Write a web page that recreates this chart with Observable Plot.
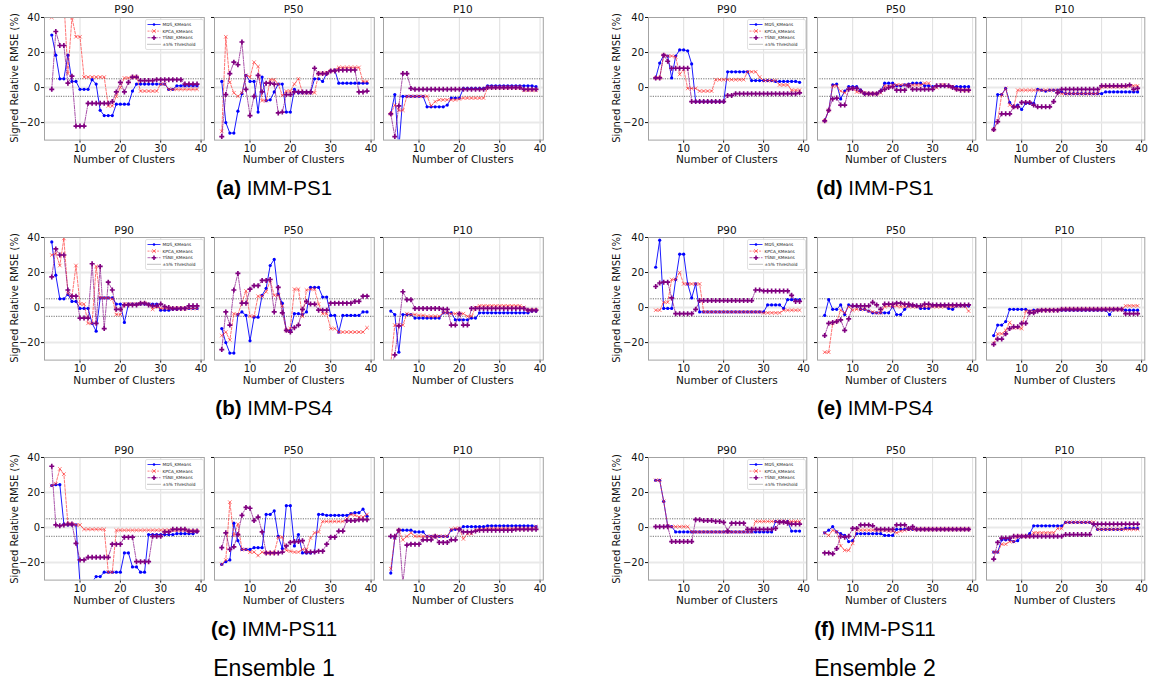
<!DOCTYPE html>
<html>
<head>
<meta charset="utf-8">
<script src="https://cdn.jsdelivr.net/npm/d3@7"></script>
<script src="https://cdn.jsdelivr.net/npm/@observablehq/plot@0.6"></script>
<style>
  html, body { margin: 0; padding: 0; background: #fff; }
  #root { position: relative; width: 1150px; height: 687px; overflow: hidden; background: #fff; }
  .lbl { position: absolute; white-space: nowrap; transform: translate(-50%, -50%); color: #111; font-weight: normal; }
  .dv { font-family: "DejaVu Sans", sans-serif; }
  .cap { font-family: "Liberation Sans", Arial, sans-serif; font-size: 20.5px; color: #000; }
  .ens { font-family: "Liberation Sans", Arial, sans-serif; font-size: 23px; color: #000; }
  .panel { position: absolute; }
</style>
</head>
<body>
<div id="root"></div>
<script>
// ---------------- DATA ----------------
const clusters = [3,4,5,6,7,8,9,10,11,12,13,14,15,16,17,18,19,20,21,22,23,24,25,26,27,28,29,30,31,32,33,34,35,36,37,38,39];
const methods = ["MDS_KMeans", "KPCA_KMeans", "TSNE_KMeans"];
const panelTitles = ["P90", "P50", "P10"];
const captionLetters = ["(a)", "(b)", "(c)", "(d)", "(e)", "(f)"];
const captionNames = ["IMM-PS1", "IMM-PS4", "IMM-PS11", "IMM-PS1", "IMM-PS4", "IMM-PS11"];
const ensembleNames = ["Ensemble 1", "Ensemble 2"];
const thresholdLabel = "±5% Threshold";
const xTicks = [10, 20, 30, 40];
const yTicks = [-20, 0, 20, 40];
const thresholds = [5, -5];
const xLabel = "Number of Clusters";
const yLabel = "Signed Relative RMSE (%)";

// (a) IMM-PS1, Ensemble 1
const a_P90_MDS  = [30,18.5,5,5,18.5,3.5,3.5,-1,-1,-1,4.5,2,-13,-16,-16,-16,-9.5,-9.5,-9.5,-9.5,-2,2,2,2,2,2,2,2,2,-1,-1,1,1,1,1,1,1];
const a_P90_KPCA = [40,55,48,50,8,40,29,29,6,6,6,6,6,6,-10.5,-10.5,-5,0,5.5,5.5,6,6,-2,-2,-2,-2,-2,2,2,-1,-1,-1,-1,-1,-1,-1,-1];
const a_P90_TSNE = [-1,32,24,24,2.5,6.5,-22,-22,-22,-9,-9,-9,-9,-9,-9,-8,-2.5,3,-2.5,3,6,6,4,4,4,4,4.5,4.5,4.5,4.5,4.5,4.5,4.5,2,2,2,2];
const a_P50_MDS  = [3.5,-20,-26,-26,-13.5,-3.5,7,3.5,3.5,-14,6,-7.5,-7,-2.5,2,2,-14,-14,-1,-3,-3,-3,-3,5,5,3.5,8,9.5,10,2.5,2.5,2.5,2.5,2.5,2.5,2.5,2.5];
const a_P50_KPCA = [-25,29,3,-3,-5,-3,7,6,14.5,12,-7.5,-7.5,4.5,4.5,2,-4.5,-2,-2,2,5,-3,-3,-3,-3,8,8,8.5,9.5,10,11.5,11.5,11.5,11.5,11.5,11.5,3.5,3.5];
const a_P50_TSNE = [-28,-4,8,14.5,13,26,-1,-16,-5,7,-2.5,2.5,2.5,2,-14.5,-14,-4,-4,-2.5,-2.5,-2.5,-2.5,-2.5,11,8,8,8,9.5,9.5,10,10,10,10,10,-2.5,-2.5,-2];
const a_P10_MDS  = [-15,-4,-35,-5,-5,-5,-5,-5,-5,-11,-11,-11,-11,-11,-10,-6,-6,-6,-0.5,-0.5,-0.5,-0.5,-0.5,-0.5,1,1,1,1,1,1,1,1,1,1,1,1,0.5];
const a_P10_KPCA = [-15,-10,-13,-13,-5,-5,-5,-5,-5,-5,-10.5,-8,-7,-7,-7,-7,-7,-6.5,-6,-6,-6,-6,-6,-6,0,0,0,0,0,0,0,0,0,-1.5,-1.5,-1.5,-1.5];
const a_P10_TSNE = [-15,-28,-10.5,8,8,-0.5,-1,-1,-1,-1,-1,-1,-1,-1,-1,-1,-1,-1,-1,-1,-1,-1,-1,-1,0,0,0,0,0,0,0,0,0,-1,-1,-1,-1];

// (b) IMM-PS4, Ensemble 1
const b_P90_MDS  = [37.5,18.5,5,5,7.5,3.5,3.5,-0.5,-0.5,-0.5,-9,-13.5,5.5,5.5,5.5,5.5,2,2,-8.5,2,2,2,2,2,2,2,2,-1.5,-1.5,-1.5,-1,-1,-0.5,-0.5,-0.5,-0.5,-0.5];
const b_P90_KPCA = [30,31,24,39.5,8,6,24,2,2,-9,-9,23.5,5.5,5.5,5.5,5,-4,-4,2,2,2,2,2,2.5,2,-1,0.5,-0.5,-0.5,-0.5,-0.5,-0.5,-0.5,-0.5,-0.5,-0.5,-0.5];
const b_P90_TSNE = [17.5,33.5,30,30,10,6.5,6.5,-6,-6,-6,25,-9,23.5,-12,14.5,10,-1,-1,1.5,1.5,1.5,1.5,2.5,2.5,1.5,1,1,2,0.5,0,-0.5,-0.5,-0.5,-0.5,1,1,1];
const b_P50_MDS  = [-12,-20,-26,-26,-4,-2.5,-4.5,-19,-5.5,-5.5,7,11,24,27.5,7.5,2.5,-13,-13,-3.5,-3.5,-4,-2.5,11.5,11.5,11.5,6,6,-4.5,-4.5,-14,-4.5,-4.5,-4.5,-4.5,-4.5,-2.5,-2.5];
const b_P50_KPCA = [-16,-14,-18.5,-3.5,-4,3,9.5,-5,-5,6.5,6.5,9,15.5,7,7,1,-13,-12,10.5,10.5,-5,10,10.5,10.5,2,-3.5,-3.5,-12,-12,-14,-14,-14,-14,-14,-14,-14,-11.5];
const b_P50_TSNE = [-24,-2.5,-10,10,19.5,2.5,2.5,10.5,12.5,12.5,15.5,15.5,16,-2.5,11.5,-3,-13,-14,-11.5,-10,-1,3.5,2,2,-1.5,-1.5,-1.5,2.5,2.5,2.5,2.5,2.5,2.5,3.5,3.5,6.5,6.5];
const b_P10_MDS  = [-2,-4,-25.5,-4,-4,-4,-6,-6,-6,-6,-6,-6,-6,-3,-3,-3,-7,-7,-7,-7,-6,-6,-3,-3,-3,-3,-3,-3,-3,-3,-3,-3,-3,-3,-3,-2,-2];
const b_P10_KPCA = [-32,-10,-10,-10,-3.5,-4,-4,-4.5,-4.5,-5,-5,-5,-5,-3,-3,-3.5,-3.5,-3.5,-3.5,-5,-5,0,1,1,1,1,1,1,1,1,1,1,1,0,-1.5,-1.5,-1.5];
const b_P10_TSNE = [-35,-27,-10.5,9,4.5,4.5,-0.5,-0.5,-0.5,-0.5,-0.5,-0.5,-0.5,-1,-1,-10,-10,-3.5,-10,-10,-0.5,-0.5,-0.5,-0.5,-0.5,-0.5,-0.5,-0.5,-0.5,-0.5,-0.5,-0.5,-0.5,-0.5,-1.5,-1.5,-1.5];

// (c) IMM-PS11, Ensemble 1
const c_P90_MDS  = [24,24.5,24.5,2,1.5,1.5,1.5,-32,-36,-36,-31,-28,-28,-25.5,-25.5,-25.5,-25.5,-25.5,-14.5,-14.5,-22.5,-22.5,-25.5,-25.5,-4,-4,-4,-4,-4,-4,-4,-3.5,-3.5,-3.5,-3.5,-3.5,-2.5];
const c_P90_KPCA = [24,25,33.5,30.5,2,2,1.5,1.5,-1,-1,-1,-1,-1,-1,-25.5,-25.5,-1.5,-1.5,-1.5,-1.5,-1.5,-1.5,-1.5,-1.5,-1.5,-1.5,-1.5,-1.5,-1.5,-1.5,-1.5,-1.5,-1.5,-1.5,-2,-2,-2];
const c_P90_TSNE = [35,1.5,1,1.5,2,2,-9,-18.5,-18.5,-17,-17,-17,-17,-17,-17,-9.5,-9.5,-9.5,-5.5,-5.5,-5.5,-19.5,-19.5,-19.5,-19.5,-5,-5,-5,-2.5,-2.5,-1,-1,-1,-1,-2,-2,-2];
const c_P50_MDS  = [-21,-19.5,-18.5,2.5,-7.5,-12.5,-12.5,-12.5,-11.5,-11.5,-11.5,7.5,7.5,9.5,-5,-12,12.5,12.5,-10.5,-4,-14.5,-14.5,-14.5,-14,7.5,7.5,7,7,7,7,7,7,8,8.5,8.5,10.5,6.5];
const c_P50_KPCA = [-21,-18.5,14.5,-4.5,2,-12.5,-12.5,-14,-14,-16,-14,-14.5,-14.5,-14.5,-5.5,-5.5,-13,-13.5,-14,-14,-12.5,-12.5,-6,-3,-2.5,3.5,3.5,3.5,3.5,3.5,3.5,5,7.5,7,6,6,7.5];
const c_P50_TSNE = [-11.5,-3,-12.5,-11,-4,7,11.5,11,4,6,-2.5,-14.5,-14.5,-14.5,-14.5,-14,-10.5,-8.5,-8,-8,-7.5,-14,-14,-14,-13.5,-13.5,-9.5,-5.5,-5.5,-2,-2,4,4,4,4.5,4.5,4.5];
const c_P10_MDS  = [-26,-6,-1.5,-1.5,-1.5,-1.5,-2.5,-2.5,-2.5,-5,-5,-5,-5,-5,-5,-1.5,-1,-1,0.5,0.5,0.5,0.5,0.5,0.5,1,1,1,1,1,1,1,1,1,1,1,1,0.5];
const c_P10_KPCA = [-23.5,-6,-1.5,-7,-5,-3,-5,-5,-5,-5,-5,-5,-5,-5,-5,-1,-0.5,-0.5,-6.5,-3.5,-3.5,-1.5,-1,-1,-0.5,-0.5,-0.5,-0.5,-0.5,-0.5,-0.5,-0.5,-0.5,-0.5,-0.5,-0.5,0.5];
const c_P10_TSNE = [-5,-5,-1.5,-32,-10,-9.5,-9.5,-9.5,-7,-7,-7,-5,-8.5,-8.5,-8.5,-7,-7,-1,-2.5,-2.5,-2.5,-2,-1.5,-1.5,-1.5,-1.5,-1.5,-1.5,-1.5,-1.5,-1.5,-1,-1,-1,-1,-1,-1];

// (d) IMM-PS1, Ensemble 2
const d_P90_MDS  = [5.5,14,18.5,18,5.5,18,21.5,21.5,21,13.5,-8,-8,-8,-8,-8,-8,-8,-8,9,9,9,9,9,9,4,4,4,4,4,4,3.5,3.5,3.5,3.5,3.5,3.5,3];
const d_P90_KPCA = [5.5,5.5,18.5,18,18,17.5,7.5,10.5,-0.5,-0.5,-0.5,-2,-2,-2,-2,4.5,4.5,4.5,4.5,4.5,4.5,4.5,4.5,9,9,9,6,4,4,4,4,1.5,1.5,1.5,-1.5,-1.5,-1.5];
const d_P90_TSNE = [5.5,5.5,18.5,15,11,11,11,11,11,-8,-8,-8,-8,-8,-8,-8,-8,-8,-4.5,-4.5,-3.5,-3.5,-3.5,-3.5,-3.5,-3.5,-3.5,-3.5,-3.5,-3.5,-3.5,-3.5,-3.5,-3.5,-3.5,-3.5,-3];
const d_P50_MDS  = [-19,-13,1.5,2,-6.5,-2,0.5,0.5,0.5,-1.5,-3.5,-3.5,-3.5,-3.5,-2,2.5,2.5,2.5,1,1,1.5,2,2.5,2.5,2.5,1,1,0.5,1,1,1,1,0.5,0.5,0.5,0.5,0.5];
const d_P50_KPCA = [-19,-13,1,1,-2,-3,-0.5,-0.5,-2.5,-2.5,-3,-3.5,-3.5,-3.5,-3,1,0.5,1.5,1.5,1.5,1.5,1.5,1.5,1.5,1.5,2.5,2.5,0,0,1.5,1.5,0.5,0.5,-1,-1,-1.5,-1.5];
const d_P50_TSNE = [-19,-13,-6.5,-6,-10,-10,-1,-0.5,-0.5,-2,-3.5,-3.5,-3.5,-3.5,-2,-1,0,0.5,-1.5,-1.5,-1.5,1,-1,-1,-1,-1,-1,-1,1,1,1,1,0,-1,-1.5,-1.5,-1.5];
const d_P10_MDS  = [-24,-4,-4,-0.5,-8.5,-11,-10,-12.5,-9,-9,-9,-1,-1.5,-2,-1.5,-1.5,-1.5,-2.5,-3.5,-3.5,-3.5,-3.5,-3.5,-3.5,-3.5,-3.5,-3.5,-3.5,-2.5,-2.5,-2.5,-2.5,-2.5,-2.5,-2.5,-2.5,-2.5];
const d_P10_KPCA = [-24,-19,-4,-0.5,-10,-11,-1.5,-1.5,-1.5,-1.5,-1.5,-1.5,-1.5,-1.5,-1.5,-1.5,-1.5,-3.5,-3.5,-3.5,-3.5,-3.5,-3.5,-3.5,-3.5,-3.5,-3.5,0.5,0.5,0.5,0.5,0.5,0.5,0.5,1,1,1];
const d_P10_TSNE = [-24,-19.5,-15,-15,-15,-11,-11,-8.5,-8.5,-8.5,-10,-11,-11,-11,-11,-8,-3,-1,-1,-1,-1,-1,-1,-1,-1,-1,-1,1,1,1,1,1,1,1,1.5,-1,-0.5];

// (e) IMM-PS4, Ensemble 2
const e_P90_MDS  = [23,38.5,-0.5,-0.5,-0.5,16,30.5,30.5,13.5,5.5,13.5,-2.5,-2.5,-2.5,-2.5,-2.5,-2.5,-2.5,-2.5,-2.5,-2.5,-2.5,-2.5,-2.5,-2.5,-2.5,-2.5,-2.5,1.5,1.5,1.5,1.5,-0.5,4.5,4.5,4.5,4.5];
const e_P90_KPCA = [-1.5,-1.5,3,3,16,16,20,13.5,13.5,13.5,13.5,13.5,-2.5,-2.5,-2.5,-2.5,-2.5,-2.5,-2.5,-2.5,-2.5,-2.5,-2.5,-2.5,-2.5,-2.5,-2.5,-3,-3,-3,-3,-3,-1.5,-1.5,-1.5,-1.5,-1.5];
const e_P90_TSNE = [12,14,14.5,14.5,5.5,-3.5,-3.5,-3.5,-3.5,-3.5,-1,4,4,4,4,4,4,4,4,4,4,4,4,4,4,10,10,9.5,9.5,9.5,9.5,9.5,9.5,9.5,7,3.5,3.5];
const e_P50_MDS  = [-4.5,4.5,-1,-1,1.5,-4,1.5,1,1,-1,-1,-2,-3,-3,-3,-3,-3,0.5,-4,-4,-1,1,1,1,-0.5,-0.5,-0.5,1,1,1,1,-0.5,-1,1,1,1,1];
const e_P50_KPCA = [-25.5,-25.5,-9,-8,-1.5,-3,0.5,-1.5,-1,-1,-1,-2,-2.5,-3,-3,0.5,1,0.5,1,0.5,0.5,0.5,0.5,0.5,0.5,0.5,0.5,0.5,0.5,0.5,0.5,0.5,0.5,1,1,1,-2];
const e_P50_TSNE = [-16,-9,-8.5,-8,-7,-13,-6.5,1,1,1,1,1,3,1.5,-1,2,2,2,2.5,2.5,2,2,1.5,1,1,2,2,1.5,1.5,1.5,1.5,1.5,1.5,1.5,1.5,1.5,1.5];
const e_P10_MDS  = [-16,-10,-10,-8,-1,-1,-1,-1,-1,-2,-1.5,-1.5,-1.5,-1.5,-1.5,-1.5,-1.5,-1.5,-1.5,-1.5,-1.5,-1.5,-1.5,-1.5,-1.5,-1.5,-1.5,-1.5,-1.5,-4,-1,-1,-1,-1.5,-1.5,-1.5,-1.5];
const e_P10_KPCA = [-20.5,-15,-15,-13,-8.5,-11.5,-11.5,-12,-2,-2,-2,-1.5,-1.5,-1.5,-1.5,-1.5,-1.5,-1,-1,-1,-1,-1,-1,-1,-1,-1,-1,-1,-1,-1,-1,-1,-1,1,1,1,1];
const e_P10_TSNE = [-21,-18,-18,-15,-12,-11,-11,-9,-9,-3,-3,-2,-1.5,-1.5,-1.5,-1.5,-1.5,-1,-1,-1,-1,-1,-1,-1,-1,-1,-1,-1,-1,-1,-1,-1,-1,-3.5,-3.5,-3.5,-3.5];

// (f) IMM-PS11, Ensemble 2
const f_P90_MDS  = [27,27,15,1,0.5,-2.5,-2.5,-2.5,-2.5,-2.5,-2.5,-2.5,-2.5,-2.5,-2.5,-2.5,-2.5,-2.5,-2.5,-2.5,-2.5,-2.5,-2.5,-2.5,-2.5,-2.5,-2.5,-2.5,-2.5,-2.5,3.5,3.5,3.5,3.5,-2,-2,-2];
const f_P90_KPCA = [27,27,15,1,0.5,0.5,0.5,0.5,0.5,-2.5,-2.5,-2.5,-2.5,-2.5,-2.5,-2.5,-2.5,-2.5,-2.5,-2.5,-2.5,-2.5,-2.5,-2.5,-2.5,3.5,3.5,3.5,3.5,3.5,3.5,3.5,3.5,3.5,3.5,3.5,3.5];
const f_P90_TSNE = [0.5,0.5,0.5,0.5,-8,-8,-8,-8,-8,-8,4.5,4.5,4,4,4,3.5,3.5,3,-2,2.5,2.5,2.5,2.5,-1,-1,-1,-1,-1,-1,-1,-0.5,3,3,2.5,2,2,2];
const f_P50_MDS  = [-3,-1.5,0.5,-2.5,-3.5,-4.5,-8,-7.5,-3.5,-3.5,-3.5,-3.5,-3.5,-3.5,-3.5,-4.5,-4.5,-4.5,-1,-1,-1,-1,-1,-1,-1,-1,-1,-1,-1,-1,-1,-1,-1,-1,-1,-1,-1];
const f_P50_KPCA = [-3,-4.5,-1.5,-2.5,-10.5,-13,-13,-9,-1.5,-1.5,-1.5,-1.5,-1.5,-1.5,-1.5,-1.5,-2,-2,-3,-2,-1.5,-1,-1,-1,-1,-1,-1,-1,-1,-1,-1,-1,-1,-1,-1,-1,-1];
const f_P50_TSNE = [-14.5,-14.5,-15,-12,-5,-5.5,-5,-0.5,-0.5,1.5,1.5,1.5,1,-1,-1,-1,-1,-1,1.5,1.5,1.5,-0.5,0.5,-1,-1,-1,-1,-1,-1,-1,-1,-1,-1,-1,-1,-1,-1];
const f_P10_MDS  = [-14,-14,-7,-7,-7,-8,-7.5,-5,-5,-3.5,1,1,1,1,1,1,1,1,3,3,3,3,3,3,3,2,-1,-1,-1,-1,-1,-1,-1,-0.5,-0.5,-0.5,-0.5];
const f_P10_KPCA = [-14,-14,-9.5,-9.5,-8,-8,-5,-5,-5,-5,-3,-3,-3,-3,-3,-3,-0.5,-0.5,3,3,3,3,3,3,3,3,-1,-1,-1,-1,-1,-1,-1,-1,-1,-1,-1];
const f_P10_TSNE = [-18,-8.5,-6,-6,-6,-5,-5,-5,-5,-5,-5,-5,-5,-5,-5,-5,-5,-5,-4,-4,-4,-4,-4,-4,-4,2,2,2,2,2,2,2,2,2,2,2,2];

const groups = [
  [[a_P90_MDS, a_P90_KPCA, a_P90_TSNE], [a_P50_MDS, a_P50_KPCA, a_P50_TSNE], [a_P10_MDS, a_P10_KPCA, a_P10_TSNE]],
  [[b_P90_MDS, b_P90_KPCA, b_P90_TSNE], [b_P50_MDS, b_P50_KPCA, b_P50_TSNE], [b_P10_MDS, b_P10_KPCA, b_P10_TSNE]],
  [[c_P90_MDS, c_P90_KPCA, c_P90_TSNE], [c_P50_MDS, c_P50_KPCA, c_P50_TSNE], [c_P10_MDS, c_P10_KPCA, c_P10_TSNE]],
  [[d_P90_MDS, d_P90_KPCA, d_P90_TSNE], [d_P50_MDS, d_P50_KPCA, d_P50_TSNE], [d_P10_MDS, d_P10_KPCA, d_P10_TSNE]],
  [[e_P90_MDS, e_P90_KPCA, e_P90_TSNE], [e_P50_MDS, e_P50_KPCA, e_P50_TSNE], [e_P10_MDS, e_P10_KPCA, e_P10_TSNE]],
  [[f_P90_MDS, f_P90_KPCA, f_P90_TSNE], [f_P50_MDS, f_P50_KPCA, f_P50_TSNE], [f_P10_MDS, f_P10_KPCA, f_P10_TSNE]]
];

// ---------------- LAYOUT / STYLE ----------------
const root = document.getElementById("root");
const fmt = d3.format("d");
const halves = [
  {frameLefts: [44.3, 213.6, 382.9], W: 159.8, ylabX: 14, capX: 274},
  {frameLefts: [647.7, 816.6, 985.5], W: 158.3, ylabX: 616, capX: 875}
];
const frameTops = [16.7, 237, 457.3];
const H = 122.6;
const capYOffset = 171.3;
const ensembleY = 668;

const styles = [
  {line: {stroke: "#0000ff", strokeWidth: 0.9},
   dot: {r: 1.6, fill: "#0000ff"}},
  {line: {stroke: "#ff2a2a", strokeOpacity: 0.72, strokeWidth: 0.9, strokeDasharray: "2.6,1.5"},
   dot: {symbol: "times", r: 1.8, stroke: "#ff2a2a", strokeOpacity: 0.75, strokeWidth: 0.8}},
  {line: {stroke: "#800080", strokeOpacity: 0.75, strokeWidth: 0.9, strokeDasharray: "3.5,1.2,1,1.2"},
   dot: {symbol: "cross", r: 2.1, fill: "#800080"}}
];

function addLabel(text, x, y, cls, rotate) {
  const d = document.createElement("div");
  d.className = "lbl " + cls;
  d.style.left = x + "px";
  d.style.top = y + "px";
  if (rotate) d.style.transform = "translate(-50%, -50%) rotate(-90deg)";
  d.textContent = text;
  root.appendChild(d);
  return d;
}

function panelPlot(seriesArrays, showY, W) {
  const mL = 30, mR = 6, mT = 4, mB = 18;
  const rowsets = seriesArrays.map((arr, k) => clusters.map((c, i) => ({cluster: c, value: arr[i], method: methods[k]})));
  const marks = [
    Plot.ruleX(xTicks, {stroke: "#d6d6d6", strokeWidth: 0.8}),
    Plot.ruleY(yTicks.filter(v => v < 40), {stroke: "#e9e9e9", strokeWidth: 2}),
    Plot.ruleY(thresholds, {stroke: "#333", strokeWidth: 0.7, strokeDasharray: "1.2,1.2"})
  ];
  rowsets.forEach((rows, k) => {
    marks.push(Plot.line(rows, {x: "cluster", y: "value", clip: true, ...styles[k].line}));
    marks.push(Plot.dot(rows, {x: "cluster", y: "value", clip: true, ...styles[k].dot}));
  });
  marks.push(Plot.frame({stroke: "#a3a3a3", strokeWidth: 1}));
  const svg = Plot.plot({
    width: W + mL + mR,
    height: H + mT + mB,
    marginLeft: mL, marginRight: mR, marginTop: mT, marginBottom: mB,
    style: {background: "transparent", overflow: "visible", fontFamily: "DejaVu Sans, sans-serif", fontSize: "10px", color: "#111"},
    x: {domain: [1.2, 40.8], ticks: xTicks, tickSize: 3, tickPadding: 1.5, tickFormat: fmt, label: null},
    y: {domain: [-30, 40], ticks: yTicks, tickSize: 3, tickPadding: 1.5, tickFormat: showY ? fmt : () => "", label: null},
    marks
  });
  return {svg, mL, mT};
}

function addLegend(frameRight, frameTop) {
  const w = 58, h = 30;
  const svg = d3.create("svg")
    .attr("width", w + 2).attr("height", h + 2)
    .style("position", "absolute")
    .style("left", (frameRight - 59.5) + "px")
    .style("top", (frameTop + 1.8) + "px")
    .style("overflow", "visible");
  svg.append("rect").attr("x", 0.5).attr("y", 0.5).attr("width", w).attr("height", h)
    .attr("rx", 1.5).attr("fill", "#fff").attr("fill-opacity", 0.85)
    .attr("stroke", "#cfcfcf").attr("stroke-width", 0.6);
  const labels = [...methods, thresholdLabel];
  labels.forEach((lab, i) => {
    const y = 5.5 + i * 6.6;
    const g = svg.append("g");
    const x0 = 2.5, x1 = 15.5, xm = 9;
    if (i === 0) {
      g.append("line").attr("x1", x0).attr("x2", x1).attr("y1", y).attr("y2", y).attr("stroke", "#0000ff").attr("stroke-width", 0.8);
      g.append("circle").attr("cx", xm).attr("cy", y).attr("r", 1.3).attr("fill", "#0000ff");
    } else if (i === 1) {
      g.append("line").attr("x1", x0).attr("x2", x1).attr("y1", y).attr("y2", y).attr("stroke", "#ff2a2a").attr("stroke-opacity", 0.75).attr("stroke-width", 0.8).attr("stroke-dasharray", "2,1.2");
      g.append("path").attr("d", d3.symbol(d3.symbolTimes, 10)()).attr("transform", `translate(${xm},${y})`).attr("fill", "none").attr("stroke", "#ff2a2a").attr("stroke-width", 0.7);
    } else if (i === 2) {
      g.append("line").attr("x1", x0).attr("x2", x1).attr("y1", y).attr("y2", y).attr("stroke", "#800080").attr("stroke-opacity", 0.75).attr("stroke-width", 0.8).attr("stroke-dasharray", "3,1,0.8,1");
      g.append("path").attr("d", d3.symbol(d3.symbolCross, 12)()).attr("transform", `translate(${xm},${y})`).attr("fill", "#800080");
    } else {
      g.append("line").attr("x1", x0).attr("x2", x1).attr("y1", y).attr("y2", y).attr("stroke", "#333").attr("stroke-width", 0.6).attr("stroke-dasharray", "1,1");
    }
    g.append("text").attr("x", 17.5).attr("y", y).attr("dy", "0.35em")
      .attr("font-family", "DejaVu Sans, sans-serif").attr("font-size", 4.3).attr("fill", "#222").text(lab);
  });
  root.appendChild(svg.node());
}

// ---------------- RENDER ----------------
groups.forEach((group, gi) => {
  const half = halves[Math.floor(gi / 3)];
  const row = gi % 3;
  const top = frameTops[row];
  group.forEach((series, pi) => {
    const left = half.frameLefts[pi];
    const {svg, mL, mT} = panelPlot(series, pi === 0, half.W);
    svg.classList.add("panel");
    svg.style.position = "absolute";
    svg.style.left = (left - mL) + "px";
    svg.style.top = (top - mT) + "px";
    root.appendChild(svg);
    addLabel(panelTitles[pi], left + half.W / 2, top - 7.4, "dv").style.fontSize = "10.5px";
    addLabel(xLabel, left + half.W / 2, top + 142.5, "dv").style.fontSize = "10.5px";
    if (pi === 0) addLegend(left + half.W, top);
  });
  addLabel(yLabel, half.ylabX, top + H / 2, "dv", true).style.fontSize = "10px";
  const cap = addLabel("", half.capX, top + capYOffset, "cap");
  const b = document.createElement("b");
  b.textContent = captionLetters[gi];
  cap.appendChild(b);
  cap.appendChild(document.createTextNode(" " + captionNames[gi]));
});
ensembleNames.forEach((name, i) => addLabel(name, halves[i].capX, ensembleY, "ens"));
</script>
</body>
</html>
